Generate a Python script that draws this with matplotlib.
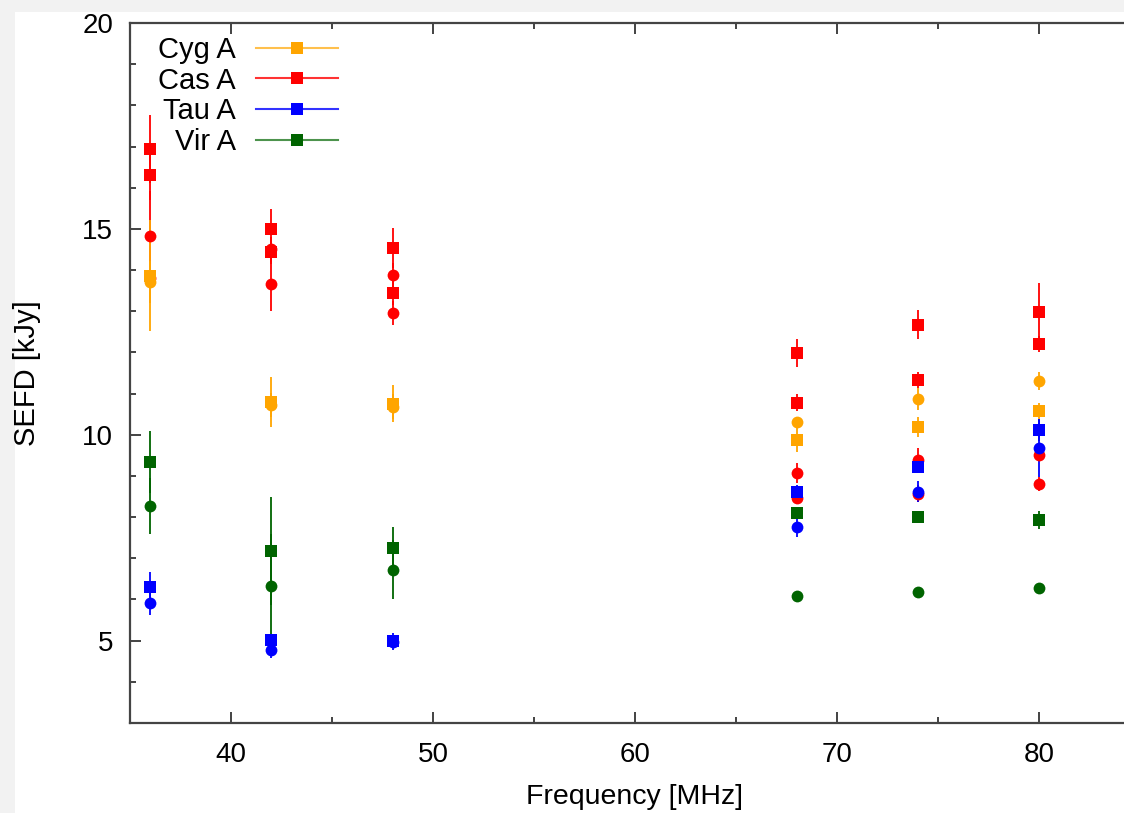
import matplotlib
matplotlib.use("Agg")
import matplotlib.pyplot as plt
from matplotlib.lines import Line2D
from matplotlib.patches import Rectangle
from matplotlib.ticker import MultipleLocator

plt.rcParams['font.family'] = ['Liberation Sans', 'DejaVu Sans']

# frequencies [MHz]
freq = [36, 42, 48, 68, 74, 80]

# Cyg A
cyg_sq = [13.86, 10.80, 10.75, 9.88, 10.19, 10.58]
cyg_sq_err = [1.35, 0.60, 0.45, 0.30, 0.25, 0.20]
cyg_ci = [13.71, 10.72, 10.68, 10.32, 10.87, 11.31]
cyg_ci_err = [0.50, 0.30, 0.30, 0.10, 0.27, 0.22]

# Cas A (two square sets, two circle sets)
cas_sq1 = [16.94, 15.00, 14.54, 11.99, 12.67, 12.99]
cas_sq1_err = [0.83, 0.49, 0.48, 0.34, 0.35, 0.70]
cas_sq2 = [16.31, 14.44, 13.45, 10.78, 11.33, 12.21]
cas_sq2_err = [0.60, 0.30, 0.30, 0.20, 0.20, 0.20]
cas_ci1 = [14.83, 14.50, 13.88, 9.08, 9.39, 9.51]
cas_ci1_err = [1.10, 0.30, 0.30, 0.24, 0.30, 0.15]
cas_ci2 = [13.80, 13.67, 12.96, 8.47, 8.57, 8.81]
cas_ci2_err = [0.10, 0.66, 0.30, 0.15, 0.20, 0.17]

# Tau A
tau_sq = [6.31, 5.02, 4.98, 8.62, 9.22, 10.12]
tau_sq_err = [0.35, 0.10, 0.20, 0.15, 0.10, 0.27]
tau_ci = [5.92, 4.78, 4.96, 7.77, 8.62, 9.68]
tau_ci_err = [0.30, 0.20, 0.10, 0.25, 0.25, 0.70]

# Vir A
vir_sq = [9.34, 7.18, 7.26, 8.11, 8.01, 7.94]
vir_sq_err = [0.76, 1.32, 0.50, 0.05, 0.05, 0.22]
vir_ci = [8.28, 6.33, 6.72, 6.09, 6.19, 6.29]
vir_ci_err = [0.68, 1.26, 0.72, 0.05, 0.05, 0.05]

names = ["Cyg A", "Cas A", "Tau A", "Vir A"]
colores = ["#ffa500", "#ff0000", "#0000ff", "#006400"]
lineas = ["#ffc04d", "#ff3333", "#3333ff", "#4d934d"]

fig = plt.figure(figsize=(11.24, 8.13), dpi=100, facecolor="#f2f2f2")
# marco blanco
fig.patches.append(Rectangle((15/1124, 0), 1, 1 - 12/813, transform=fig.transFigure,
                             facecolor="white", edgecolor="none", zorder=-10))
ax = fig.add_axes([130/1124, 90/813, 1010/1124, 700/813])
ax.set_facecolor("white")

def dibuja(y, err, c, m, ms):
    ax.errorbar(freq, y, yerr=err, fmt=m, color=c, ms=ms, elinewidth=1.3,
                capsize=0, mew=0, clip_on=False)

# Cas A primero, los demas encima
dibuja(cas_sq1, cas_sq1_err, colores[1], 's', 9)
dibuja(cas_sq2, cas_sq2_err, colores[1], 's', 9)
dibuja(cas_ci1, cas_ci1_err, colores[1], 'o', 8.5)
dibuja(cas_ci2, cas_ci2_err, colores[1], 'o', 8.5)
dibuja(cyg_ci, cyg_ci_err, colores[0], 'o', 8.5)
dibuja(cyg_sq, cyg_sq_err, colores[0], 's', 9)
dibuja(tau_ci, tau_ci_err, colores[2], 'o', 8.5)
dibuja(tau_sq, tau_sq_err, colores[2], 's', 9)
dibuja(vir_ci, vir_ci_err, colores[3], 'o', 8.5)
dibuja(vir_sq, vir_sq_err, colores[3], 's', 9)

ax.set_xlim(35, 85)
ax.set_ylim(3, 20)
ax.xaxis.set_major_locator(MultipleLocator(10))
ax.xaxis.set_minor_locator(MultipleLocator(5))
ax.yaxis.set_major_locator(MultipleLocator(5))
ax.yaxis.set_minor_locator(MultipleLocator(1))
ax.set_yticks([5, 10, 15, 20])
ax.tick_params(which='both', direction='in', top=True, right=True, colors='#222222',
               labelcolor='black', labelsize=20, width=1.2)
ax.tick_params(which='major', length=8, pad=12)
ax.tick_params(axis='x', which='major', pad=14)
ax.tick_params(which='minor', length=4.5)
for s in ax.spines.values():
    s.set_color('#444444')
    s.set_linewidth(1.6)

ax.set_xlabel("Frequency [MHz]", fontsize=20.5, labelpad=11)
ax.set_ylabel("SEFD [kJy]", fontsize=21, labelpad=30)

handles = []
for c, l in zip(colores, lineas):
    handles.append((Line2D([], [], color=l, lw=1.5),
                    Line2D([], [], color=c, marker='s', ms=9, lw=0, mew=0)))
fig.legend(handles, names, loc='upper left', bbox_to_anchor=(158/1124, 1 - 36/813),
           frameon=False, fontsize=21, markerfirst=False, handlelength=2.8,
           handletextpad=0.7, labelspacing=0.09, borderpad=0, borderaxespad=0)

fig.savefig("out.png", dpi=100, facecolor=fig.get_facecolor())
